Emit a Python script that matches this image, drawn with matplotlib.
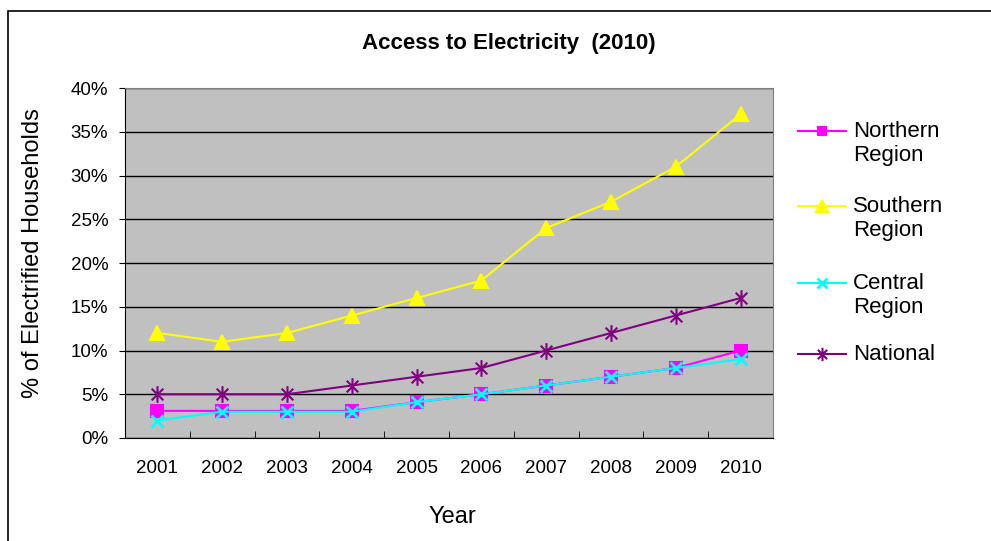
import matplotlib.pyplot as plt
from matplotlib.lines import Line2D
from matplotlib.patches import Rectangle
from matplotlib.path import Path
from matplotlib.ticker import PercentFormatter, MultipleLocator

years = ["2001", "2002", "2003", "2004", "2005", "2006", "2007", "2008", "2009", "2010"]
northern = [3.1, 3.1, 3.1, 3.1, 4.1, 5, 6, 7, 8, 10]
southern = [12, 11, 12, 14, 16, 18, 24, 27, 31, 37]
central = [2, 3, 3, 3, 4.1, 5, 6, 7, 8, 9]
national = [5, 5, 5, 6, 7, 8, 10, 12, 14, 16]

plt.rcParams['font.family'] = ['Liberation Sans', 'DejaVu Sans']

W, H = 991, 541
fig = plt.figure(figsize=(W / 100, H / 100), dpi=100)
fig.patch.set_facecolor("white")

# outer chart-area border (runs off the right and bottom edges)
fig.add_artist(Rectangle((8 / W, -0.1), 1.2, 1.1 - 11 / H, transform=fig.transFigure,
                         fill=False, edgecolor="black", linewidth=1.2))

ax = fig.add_axes([125 / W, (H - 438) / H, 648 / W, 350 / H])
ax.set_facecolor("#C0C0C0")

# excel style asterisk: an x with a vertical bar
star = Path([(-0.7, -0.7), (0.7, 0.7), (-0.7, 0.7), (0.7, -0.7), (0, -1), (0, 1)],
            [Path.MOVETO, Path.LINETO, Path.MOVETO, Path.LINETO, Path.MOVETO, Path.LINETO])

x = list(range(len(years)))
series = [
    ("Northern\nRegion", northern, "#FF00FF", "s", 8, 1.5),
    ("Southern\nRegion", southern, "#FFFF00", "^", 10, 1.5),
    ("Central\nRegion", central, "#00FFFF", "x", 9, 2.0),
    ("National", national, "#800080", star, 12, 1.5),
]
for label, vals, color, marker, ms, mew in series:
    ax.plot(x, vals, color=color, linewidth=1.5, marker=marker, markersize=ms,
            markeredgewidth=mew, markeredgecolor=color, markerfacecolor=color, zorder=3)

ax.set_xlim(-0.5, len(years) - 0.5)
ax.set_ylim(0, 40)
ax.yaxis.set_major_locator(MultipleLocator(5))
ax.yaxis.set_major_formatter(PercentFormatter(decimals=0))
ax.grid(axis="y", color="black", linewidth=1)
ax.set_axisbelow(True)

ax.set_xticks(x)
ax.set_xticklabels(years)
ax.set_xticks([i + 0.5 for i in range(len(years) - 1)], minor=True)
ax.tick_params(axis="x", which="major", length=0, pad=16, labelsize=13.5)
ax.tick_params(axis="x", which="minor", direction="in", length=5, color="black")
ax.tick_params(axis="y", direction="out", length=4, pad=8, labelsize=13.5)

for s in ["top", "right"]:
    ax.spines[s].set_color("#808080")
for s in ["left", "bottom"]:
    ax.spines[s].set_color("black")

fig.text(509 / W, 1 - 43 / H, "Access to Electricity  (2010)", ha="center", va="center",
         fontsize=16, fontweight="bold")
fig.text(33 / W, 1 - 253 / H, "% of Electrified Households", rotation=90,
         ha="center", va="center", fontsize=17)
fig.text(452 / W, 1 - 517 / H, "Year", ha="center", va="center", fontsize=17)

# legend
leg_y = [131, 206, 283, 354]
for (label, vals, color, marker, ms, mew), ly in zip(series, leg_y):
    fig.add_artist(Line2D([798 / W, 846 / W], [1 - ly / H, 1 - ly / H],
                          transform=fig.transFigure, color=color, linewidth=1.5))
    fig.add_artist(Line2D([822 / W], [1 - ly / H], transform=fig.transFigure,
                          marker=marker, markersize=ms * 0.8, markeredgewidth=mew,
                          color=color, markerfacecolor=color))
    fig.text(853 / W, 1 - (ly - 10) / H, label, ha="left", va="top", fontsize=16,
             linespacing=1.2)

fig.savefig("out.png", dpi=100)
